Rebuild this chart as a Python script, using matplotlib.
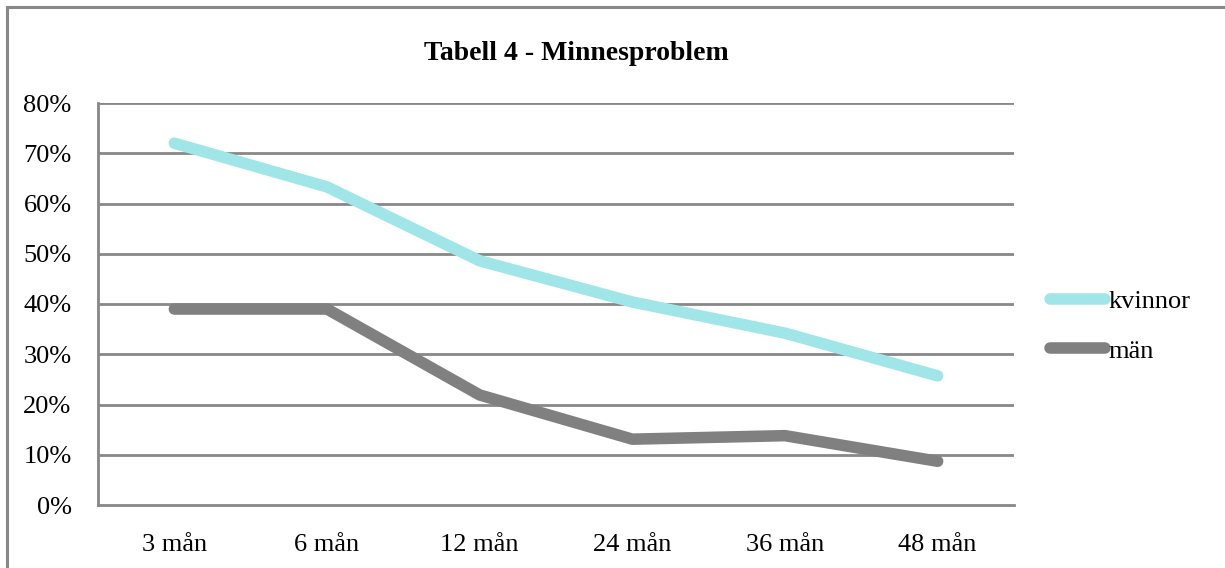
import matplotlib
matplotlib.use("Agg")
import matplotlib.pyplot as plt
from matplotlib.patches import Rectangle
from matplotlib.lines import Line2D
from matplotlib.ticker import PercentFormatter

categories = ["3 mån", "6 mån", "12 mån", "24 mån", "36 mån", "48 mån"]
kvinnor = [72, 63.3, 48.6, 40.4, 34.2, 25.7]
man = [39, 39, 21.9, 13.1, 13.8, 8.7]
series_names = ["kvinnor", "män"]
yticks = [0, 10, 20, 30, 40, 50, 60, 70, 80]
title = "Tabell 4 - Minnesproblem"

plt.rcParams["font.family"] = ["Liberation Serif", "DejaVu Serif"]

W, H = 1225, 568
fig = plt.figure(figsize=(W / 100, H / 100), dpi=100)
fig.patch.set_facecolor("white")

# outer chart frame
fig.add_artist(Rectangle((7 / W, -0.1), 1.2, 1 - 7 / H + 0.1, transform=fig.transFigure,
                         fill=False, edgecolor="#888888", linewidth=2.2))

ax = fig.add_axes([98 / W, 63 / H, 916 / W, 402 / H])
grid_c = "#888888"
for s in ["top", "right"]:
    ax.spines[s].set_visible(False)
for s in ["left", "bottom"]:
    ax.spines[s].set_color(grid_c)
    ax.spines[s].set_linewidth(2.0)

n = len(categories)
ax.set_xlim(-0.5, n - 0.5)
ax.set_ylim(0, 80)
ax.set_yticks(yticks)
ax.yaxis.set_major_formatter(PercentFormatter(decimals=0))
ax.set_xticks(range(n))
ax.set_xticklabels(categories)
ax.tick_params(axis="both", length=0, labelsize=19)
ax.tick_params(axis="y", pad=19)
ax.tick_params(axis="x", pad=21)
for y in yticks[1:]:
    ax.axhline(y, color=grid_c, linewidth=2.0, zorder=1)

colors = ["#A0E6E8", "#808080"]
lw = 8.3
for vals, c in zip([kvinnor, man], colors):
    ax.plot(range(n), vals, color=c, linewidth=lw, solid_capstyle="round",
            solid_joinstyle="round", zorder=3)

handles = [Line2D([], [], color=c, linewidth=lw, solid_capstyle="round") for c in colors]
fig.legend(handles, series_names, loc="center left", bbox_to_anchor=(1050 / W, 1 - 326 / H),
           frameon=False, fontsize=19, handlelength=2.1, handletextpad=0.1,
           labelspacing=1.0, borderaxespad=0, borderpad=0)

fig.text(576 / W, 1 - 53 / H, title, ha="center", va="center", fontsize=20,
         fontweight="bold")

fig.savefig("out.png", dpi=100)
